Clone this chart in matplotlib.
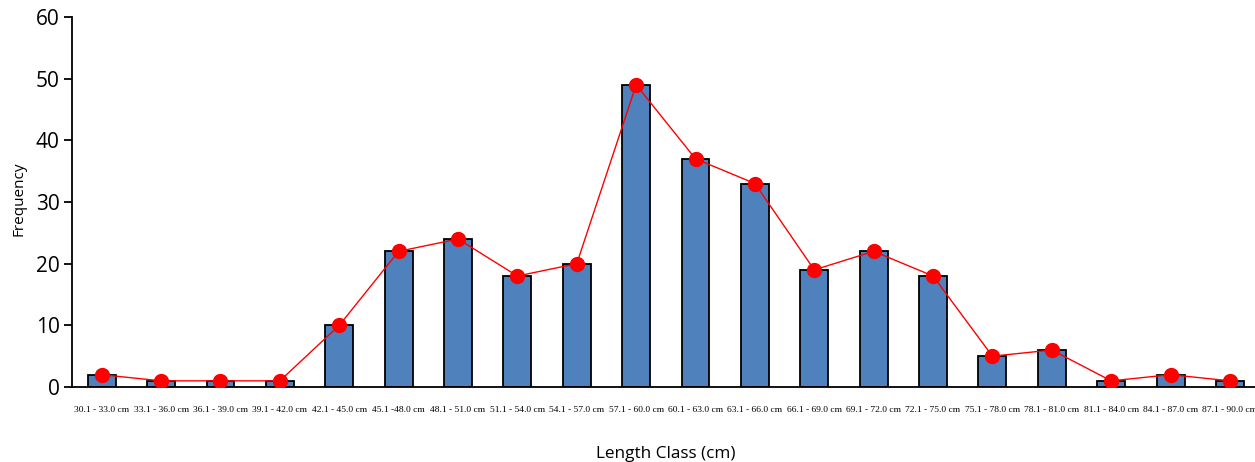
import matplotlib.pyplot as plt

classes = ["30.1 - 33.0 cm", "33.1 - 36.0 cm", "36.1 - 39.0 cm", "39.1 - 42.0 cm",
           "42.1 - 45.0 cm", "45.1 -48.0 cm", "48.1 - 51.0 cm", "51.1 - 54.0 cm",
           "54.1 - 57.0 cm", "57.1 - 60.0 cm", "60.1 - 63.0 cm", "63.1 - 66.0 cm",
           "66.1 - 69.0 cm", "69.1 - 72.0 cm", "72.1 - 75.0 cm", "75.1 - 78.0 cm",
           "78.1 - 81.0 cm", "81.1 - 84.0 cm", "84.1 - 87.0 cm", "87.1 - 90.0 cm"]
frequency = [2, 1, 1, 1, 10, 22, 24, 18, 20, 49, 37, 33, 19, 22, 18, 5, 6, 1, 2, 1]


def main():
    fig = plt.figure(figsize=(12.55, 4.62), dpi=100)
    ax = fig.add_axes([0.0574, 0.1623, 0.9463, 0.8009])
    x = range(len(classes))

    ax.bar(x, frequency, width=0.47, color="#4F81BD", edgecolor="black", linewidth=1.3, zorder=2)
    ax.plot(x, frequency, color="red", linewidth=1, marker="o", markersize=10, zorder=3)

    ax.set_xlim(-0.5, len(classes) - 0.5)
    ax.set_ylim(0, 60)
    ax.set_yticks(range(0, 61, 10))
    ax.set_xticks(list(x))
    ax.set_xticklabels(classes, fontsize=6.8, family="Liberation Serif")
    ax.tick_params(axis="x", length=0, pad=14)
    ax.tick_params(axis="y", length=6, width=1.3, labelsize=15, direction="out", pad=3)
    for lab in ax.get_yticklabels():
        lab.set_family("Open Sans")

    for s in ["top", "right"]:
        ax.spines[s].set_visible(False)
    for s in ["left", "bottom"]:
        ax.spines[s].set_linewidth(1.3)

    ax.set_xlabel("Length Class (cm)", fontsize=12.3, family="Open Sans", labelpad=23)
    ax.set_ylabel("Frequency", fontsize=11, family="Open Sans")
    ax.yaxis.set_label_coords(-0.038, 0.51)

    fig.savefig("out.png", dpi=100)


if __name__ == "__main__":
    main()
